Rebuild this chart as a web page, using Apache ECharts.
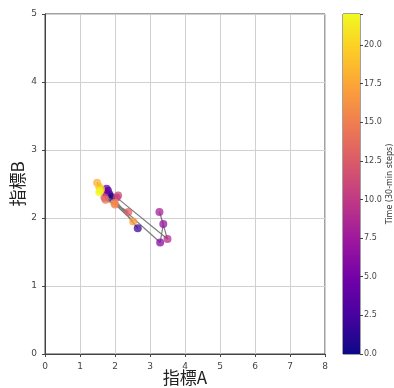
<!DOCTYPE html>
<html>
<head>
<meta charset="utf-8">
<script src="https://cdn.jsdelivr.net/npm/echarts@6/dist/echarts.min.js"></script>
<style>
html, body { margin: 0; padding: 0; background: #fff; }
#chart { width: 394px; height: 388px; }
</style>
</head>
<body>
<div id="chart"></div>
<script>
// time step (30-min), 指標A, 指標B
var steps = [0, 1, 2, 3, 4, 5, 6, 7, 8, 9, 10, 11, 12, 13, 14, 15, 16, 17, 18, 19, 20, 21, 22];
var indexA = [1.89, 1.84, 2.65, 1.80, 1.76, 1.72, 3.29, 3.38, 3.27, 3.50, 2.05, 2.09, 1.70, 2.38, 1.73, 2.00, 1.98, 2.52, 1.49, 1.55, 1.60, 1.57, 1.55];
var indexB = [2.31, 2.35, 1.85, 2.40, 2.43, 2.37, 1.64, 1.91, 2.09, 1.69, 2.30, 2.33, 2.30, 2.09, 2.27, 2.20, 2.22, 1.95, 2.52, 2.46, 2.42, 2.40, 2.38];
var cbTicks = [0, 2.5, 5, 7.5, 10, 12.5, 15, 17.5, 20];

var plasma = ['#0d0887', '#46039f', '#7201a8', '#9c179e', '#bd3786', '#d8576b', '#ed7953', '#fb9f3a', '#fdca26', '#f0f921'];

var pts = [];
for (var i = 0; i < steps.length; i++) {
    pts.push([indexA[i], indexB[i], steps[i]]);
}

var stops = plasma.map(function (c, i) {
    return { offset: i / (plasma.length - 1), color: c };
});

var tickFont = { color: '#444', fontSize: 9, fontFamily: 'DejaVu Sans' };

var myChart = echarts.init(document.getElementById('chart'));
var option = {
    animation: false,
    grid: [
        { left: 45, right: 69, top: 14, bottom: 34, outerBoundsMode: 'none', show: true, borderColor: '#444', borderWidth: 1 },
        { left: 343, width: 17, top: 14, bottom: 34, outerBoundsMode: 'none', show: true, borderColor: '#444', borderWidth: 1 }
    ],
    xAxis: [
        {
            gridIndex: 0, type: 'value', min: 0, max: 8, interval: 1,
            name: '指標A', nameLocation: 'middle', nameGap: 15, nameMoveOverlap: false,
            nameTextStyle: { fontSize: 17, color: '#222', fontFamily: 'Noto Sans CJK JP' },
            axisLine: { show: true, onZero: false, lineStyle: { color: '#444' } },
            axisTick: { show: true, length: 3, lineStyle: { color: '#444' } },
            axisLabel: tickFont,
            splitLine: { show: true, lineStyle: { color: '#d0d0d0' } }
        },
        {
            gridIndex: 1, type: 'category', data: ['t'], show: false
        }
    ],
    yAxis: [
        {
            gridIndex: 0, type: 'value', min: 0, max: 5, interval: 1,
            name: '指標B', nameLocation: 'middle', nameGap: 19, nameMoveOverlap: false,
            nameTextStyle: { fontSize: 17, color: '#222', fontFamily: 'Noto Sans CJK JP' },
            axisLine: { show: true, onZero: false, lineStyle: { color: '#444' } },
            axisTick: { show: true, length: 3, lineStyle: { color: '#444' } },
            axisLabel: tickFont,
            splitLine: { show: true, lineStyle: { color: '#d0d0d0' } }
        },
        {
            gridIndex: 1, type: 'value', min: 0, max: 22, interval: 2.5, position: 'right',
            name: 'Time (30-min steps)', nameLocation: 'middle', nameGap: 26, nameRotate: 90, nameMoveOverlap: false,
            nameTextStyle: { fontSize: 8, color: '#333', fontFamily: 'DejaVu Sans' },
            axisLine: { show: false },
            axisTick: { show: true, length: 3, lineStyle: { color: '#444' } },
            axisLabel: {
                color: '#444', fontSize: 8, fontFamily: 'DejaVu Sans', margin: 4,
                formatter: function (v) { return cbTicks.indexOf(v) >= 0 ? v.toFixed(1) : ''; }
            },
            splitLine: { show: false }
        }
    ],
    visualMap: {
        show: false, type: 'continuous', seriesIndex: 1, dimension: 2,
        min: 0, max: 22, inRange: { color: plasma }
    },
    series: [
        {
            type: 'line', xAxisIndex: 0, yAxisIndex: 0,
            data: pts, symbol: 'none', z: 2,
            lineStyle: { color: '#666', width: 1.2, opacity: 0.85 }
        },
        {
            type: 'scatter', xAxisIndex: 0, yAxisIndex: 0,
            data: pts, symbolSize: 8, z: 3,
            itemStyle: { opacity: 0.75 }
        },
        {
            type: 'bar', xAxisIndex: 1, yAxisIndex: 1,
            data: [22], barWidth: '100%', silent: true,
            itemStyle: {
                color: { type: 'linear', x: 0, y: 1, x2: 0, y2: 0, colorStops: stops }
            }
        }
    ]
};
myChart.setOption(option);
</script>
</body>
</html>
